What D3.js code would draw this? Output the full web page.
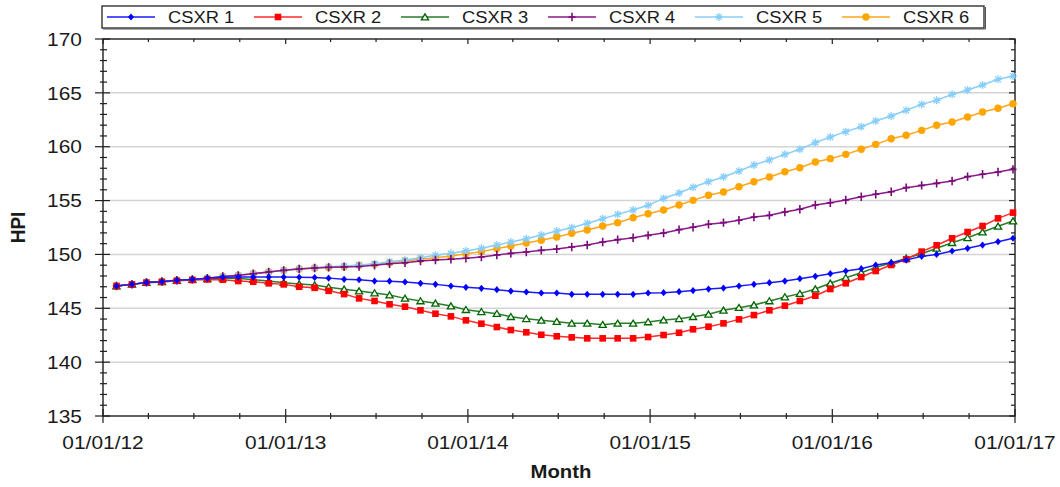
<!DOCTYPE html>
<html>
<head>
<meta charset="utf-8">
<script src="https://cdn.jsdelivr.net/npm/d3@7"></script>
<style>
  body { margin: 0; background: #fff; }
  svg { display: block; }
  text { font-family: Arial, "Liberation Sans", sans-serif; fill: #1a1a1a; }
</style>
</head>
<body>
<svg id="chart" width="1060" height="487"></svg>
<script>
// ---- data ----
const seriesNames = ["CSXR 1", "CSXR 2", "CSXR 3", "CSXR 4", "CSXR 5", "CSXR 6"];

// monthly observations, Jan 2012 .. Dec 2016
const months = d3.range(60).map(i => new Date(2012, i, 28));

const csxr1 = [147.07,147.22,147.40,147.47,147.60,147.68,147.78,147.88,147.90,147.90,147.90,147.90,
  147.88,147.86,147.80,147.69,147.65,147.53,147.52,147.44,147.32,147.22,147.07,146.95,
  146.85,146.73,146.60,146.51,146.42,146.42,146.30,146.30,146.30,146.30,146.30,146.42,
  146.45,146.54,146.64,146.78,146.88,147.07,147.22,147.38,147.53,147.75,147.97,148.21,
  148.46,148.68,149.02,149.23,149.48,149.82,150.00,150.32,150.57,150.87,151.18,151.50];

const csxr2 = [147.07,147.22,147.38,147.45,147.55,147.62,147.68,147.65,147.53,147.47,147.32,147.22,
  147.00,146.90,146.62,146.32,145.92,145.68,145.37,145.15,144.81,144.50,144.25,143.88,
  143.57,143.26,142.98,142.77,142.54,142.40,142.30,142.21,142.21,142.21,142.21,142.33,
  142.52,142.73,143.05,143.29,143.60,143.97,144.37,144.81,145.24,145.68,146.17,146.79,
  147.32,147.90,148.46,149.02,149.55,150.26,150.85,151.50,152.08,152.64,153.35,153.88];

const csxr3 = [147.07,147.22,147.40,147.47,147.58,147.66,147.74,147.80,147.78,147.66,147.53,147.38,
  147.25,147.16,146.96,146.76,146.60,146.42,146.23,145.92,145.68,145.46,145.21,144.87,
  144.68,144.50,144.22,144.03,143.89,143.76,143.60,143.60,143.48,143.60,143.60,143.73,
  143.91,144.03,144.22,144.44,144.81,145.06,145.30,145.68,146.05,146.36,146.79,147.32,
  147.84,148.30,148.80,149.20,149.64,150.07,150.57,151.09,151.55,152.08,152.61,153.10];

const csxr4 = [147.07,147.22,147.41,147.48,147.60,147.68,147.80,147.95,148.06,148.21,148.37,148.52,
  148.65,148.74,148.80,148.84,148.88,148.99,149.14,149.23,149.39,149.48,149.55,149.64,
  149.76,149.95,150.10,150.22,150.38,150.50,150.69,150.87,151.15,151.37,151.55,151.77,
  151.99,152.30,152.52,152.80,152.95,153.17,153.47,153.63,153.94,154.19,154.59,154.80,
  155.05,155.36,155.58,155.82,156.20,156.41,156.60,156.82,157.22,157.44,157.65,157.90];

const csxr5 = [147.07,147.22,147.41,147.48,147.60,147.68,147.80,147.95,148.06,148.21,148.37,148.52,
  148.66,148.76,148.86,148.92,149.02,149.14,149.33,149.48,149.70,149.92,150.10,150.32,
  150.57,150.87,151.15,151.45,151.80,152.17,152.48,152.89,153.32,153.72,154.12,154.56,
  155.20,155.70,156.23,156.75,157.19,157.74,158.30,158.77,159.29,159.76,160.38,160.90,
  161.40,161.86,162.39,162.85,163.38,163.93,164.31,164.86,165.27,165.73,166.26,166.56];

const csxr6 = [147.07,147.22,147.41,147.48,147.60,147.68,147.80,147.95,148.06,148.21,148.37,148.52,
  148.65,148.74,148.78,148.86,148.99,149.08,149.23,149.39,149.55,149.70,149.85,150.07,
  150.26,150.55,150.78,151.06,151.31,151.62,151.96,152.27,152.64,152.95,153.41,153.78,
  154.12,154.59,155.02,155.49,155.80,156.29,156.75,157.19,157.68,158.05,158.58,158.89,
  159.29,159.76,160.22,160.74,161.06,161.52,161.99,162.29,162.76,163.22,163.57,163.99];

const seriesValues = [csxr1, csxr2, csxr3, csxr4, csxr5, csxr6];
const yTickValues = [135, 140, 145, 150, 155, 160, 165, 170];

// ---- styling ----
const lineColors   = ["#1a1aff", "#ff2a2a", "#2a7d2a", "#8b1a8b", "#87cefa", "#ffa61a"];
const markerColors = ["#0000ff", "#ff0000", "#006400", "#7a0a7a", "#87cefa", "#ffa500"];
const markerTypes  = ["diamond", "square", "triangle", "plus", "asterisk", "circle"];
const textStretch = 1.1;

const svg = d3.select("#chart");
const W = 1060, H = 487;
const plot = { left: 103, right: 1015, top: 39, bottom: 416 };

svg.append("rect").attr("width", W).attr("height", H).attr("fill", "#fff");

const x = d3.scaleTime()
  .domain([new Date(2012, 0, 1), new Date(2017, 0, 1)])
  .range([plot.left, plot.right]);
const y = d3.scaleLinear()
  .domain([135, 170])
  .range([plot.bottom, plot.top]);

// horizontal gridlines
svg.append("g").selectAll("line")
  .data(yTickValues.filter(v => v > 135 && v < 170))
  .join("line")
  .attr("x1", plot.left).attr("x2", plot.right)
  .attr("y1", d => y(d)).attr("y2", d => y(d))
  .attr("stroke", "#d4d4d4").attr("stroke-width", 1.5);

// frame and axes
const axisColor = "#1e1e1e";
const frame = svg.append("g").attr("stroke", axisColor).attr("stroke-width", 1.4).attr("fill", "none");
frame.append("rect")
  .attr("x", plot.left).attr("y", plot.top)
  .attr("width", plot.right - plot.left).attr("height", plot.bottom - plot.top);

// y ticks (every unit, major each 5)
const yAll = d3.range(135, 170.5, 1);
yAll.forEach(v => {
  const major = v % 5 === 0;
  const yy = y(v);
  frame.append("line")
    .attr("x1", plot.left - (major ? 8 : 3)).attr("x2", plot.left + (major ? 7 : 4))
    .attr("y1", yy).attr("y2", yy).attr("stroke-width", 1.2);
  frame.append("line")
    .attr("x1", plot.right - (major ? 6 : 4)).attr("x2", plot.right)
    .attr("y1", yy).attr("y2", yy).attr("stroke-width", 1.2);
});

// x ticks (quarterly, major each year)
const xAll = x.ticks(d3.timeMonth.every(3));
xAll.forEach(d => {
  const major = d.getMonth() === 0;
  const xx = x(d);
  frame.append("line")
    .attr("x1", xx).attr("x2", xx)
    .attr("y1", plot.bottom - (major ? 7 : 3)).attr("y2", plot.bottom + (major ? 7 : 3))
    .attr("stroke-width", 1.2);
  frame.append("line")
    .attr("x1", xx).attr("x2", xx)
    .attr("y1", plot.top).attr("y2", plot.top + (major ? 5 : 3))
    .attr("stroke-width", 1.2);
});

// tick labels
svg.append("g").selectAll("text")
  .data(yTickValues)
  .join("text")
  .attr("transform", d => `translate(82,${y(d)}) scale(${textStretch},1)`)
  .attr("text-anchor", "end").attr("dy", "0.35em")
  .style("font-size", "19px")
  .text(d => d);

const fmt = d3.timeFormat("%m/%d/%y");
svg.append("g").selectAll("text")
  .data(x.ticks(d3.timeYear.every(1)))
  .join("text")
  .attr("transform", d => `translate(${x(d)},449) scale(${textStretch},1)`)
  .attr("text-anchor", "middle")
  .style("font-size", "19px")
  .text(d => fmt(d));

// axis titles
svg.append("text")
  .attr("transform", `translate(${(plot.left + plot.right) / 2 + 2},478) scale(${textStretch},1)`)
  .attr("text-anchor", "middle")
  .style("font-size", "18.5px").style("font-weight", "bold")
  .text("Month");
svg.append("text")
  .attr("transform", `translate(25,${(plot.top + plot.bottom) / 2}) scale(${textStretch},1) rotate(-90)`)
  .attr("text-anchor", "middle")
  .style("font-size", "19px").style("font-weight", "bold")
  .text("HPI");

// markers
function drawMarker(g, type, color, cx, cy) {
  const t = `translate(${cx},${cy})`;
  switch (type) {
    case "diamond":
      g.append("path").attr("transform", t).attr("d", "M0,-3.6L3,0L0,3.6L-3,0Z").attr("fill", color);
      break;
    case "square":
      g.append("rect").attr("transform", t).attr("x", -3.3).attr("y", -3.3)
        .attr("width", 6.6).attr("height", 6.6).attr("fill", color);
      break;
    case "triangle":
      g.append("path").attr("transform", t).attr("d", "M0,-3.2L3.6,2.8L-3.6,2.8Z")
        .attr("fill", "#fff").attr("stroke", color).attr("stroke-width", 1.3);
      break;
    case "plus":
      g.append("path").attr("transform", t).attr("d", "M-3.5,0H3.5M0,-4.2V4.2")
        .attr("stroke", color).attr("stroke-width", 1.6).attr("fill", "none");
      break;
    case "asterisk":
      g.append("path").attr("transform", t)
        .attr("d", "M-4,0H4M0,-4V4M-2.9,-2.9L2.9,2.9M-2.9,2.9L2.9,-2.9")
        .attr("stroke", color).attr("stroke-width", 1.3).attr("fill", "none");
      break;
    case "circle":
      g.append("circle").attr("transform", t).attr("r", 3.7).attr("fill", color);
      break;
  }
}

// series (drawn last-to-first so CSXR 1 sits on top)
const line = d3.line().x((d, i) => x(months[i])).y(d => y(d));
const seriesLayer = svg.append("g");
for (let s = seriesValues.length - 1; s >= 0; s--) {
  const g = seriesLayer.append("g");
  g.append("path")
    .attr("d", line(seriesValues[s]))
    .attr("fill", "none")
    .attr("stroke", lineColors[s]).attr("stroke-width", 1.5);
  seriesValues[s].forEach((v, i) => drawMarker(g, markerTypes[s], markerColors[s], x(months[i]), y(v)));
}

// legend
const legend = svg.append("g");
legend.append("rect")
  .attr("x", 102).attr("y", 6).attr("width", 882).attr("height", 22)
  .attr("fill", "#fff").attr("stroke", "#333").attr("stroke-width", 1.4);
legend.append("path")
  .attr("d", "M103,29H985.5V7")
  .attr("fill", "none").attr("stroke", "#555").attr("stroke-width", 1);
seriesNames.forEach((name, s) => {
  const lx = 107 + s * 147, ly = 17;
  legend.append("line")
    .attr("x1", lx).attr("x2", lx + 48).attr("y1", ly).attr("y2", ly)
    .attr("stroke", lineColors[s]).attr("stroke-width", 1.5);
  drawMarker(legend, markerTypes[s], markerColors[s], lx + 24, ly);
  legend.append("text")
    .attr("transform", `translate(${lx + 61},${ly}) scale(1.08,1)`)
    .attr("dy", "0.36em")
    .style("font-size", "17px")
    .text(name);
});
</script>
</body>
</html>
